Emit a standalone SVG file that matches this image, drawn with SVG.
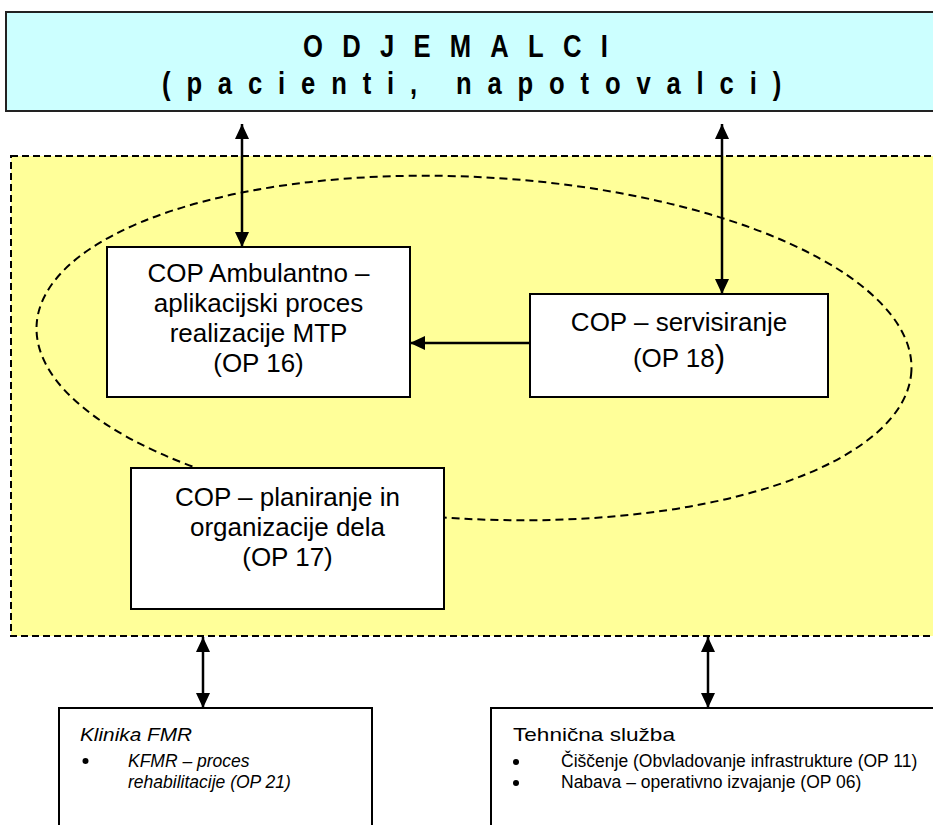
<svg xmlns="http://www.w3.org/2000/svg" width="933" height="825" viewBox="0 0 933 825">
<style>
.box{fill:#fff;stroke:#000;stroke-width:2}
.t{font-family:"Liberation Sans",Arial,sans-serif;font-size:26px;fill:#000;text-anchor:middle}
.s{font-family:"Liberation Sans",Arial,sans-serif;font-size:17.5px;fill:#000}
.h{font-family:"Liberation Sans",Arial,sans-serif;font-size:19px;fill:#000}
.big{font-family:"Liberation Sans",Arial,sans-serif;font-weight:bold;font-size:32px;fill:#000}
.con{stroke:#000;stroke-width:2.5;fill:none}
.dot{fill:#000}
</style>
<defs>
<marker id="ah" markerUnits="userSpaceOnUse" markerWidth="15" markerHeight="14" refX="15" refY="7" orient="auto-start-reverse" viewBox="0 0 15 14">
<path d="M0,0 L15,7 L0,14 z" fill="#000"/>
</marker>
</defs>

<g id="odjemalci">
<rect x="6" y="12" width="940" height="99" fill="#CCFFFF" stroke="#222" stroke-width="2"/>
<g transform="scale(0.8,1)">
<text class="big" x="378.75" y="57" textLength="381" lengthAdjust="spacing">ODJEMALCI</text>
<text class="big" x="202.5" y="94" textLength="774" lengthAdjust="spacing">(pacienti, napotovalci)</text>
</g>
</g>

<g id="podrocje">
<rect x="11" y="156" width="940" height="480" fill="#FFFF99" stroke="#000" stroke-width="2" stroke-dasharray="7 4"/>
<ellipse cx="474" cy="348" rx="438" ry="171" transform="rotate(3 474 348)" fill="none" stroke="#000" stroke-width="2" stroke-dasharray="8 5"/>
</g>

<g id="connectors">
<line class="con" x1="242" y1="124" x2="242" y2="247" marker-start="url(#ah)" marker-end="url(#ah)"/>
<line class="con" x1="722" y1="124" x2="722" y2="294" marker-start="url(#ah)" marker-end="url(#ah)"/>
<line class="con" x1="530" y1="343" x2="410" y2="343" marker-end="url(#ah)"/>
<line class="con" x1="203" y1="637" x2="203" y2="708" marker-start="url(#ah)" marker-end="url(#ah)"/>
<line class="con" x1="708" y1="637" x2="708" y2="708" marker-start="url(#ah)" marker-end="url(#ah)"/>
</g>

<g id="op16">
<rect class="box" x="107" y="247" width="303" height="150"/>
<text class="t" x="258.5" y="282">COP Ambulantno –</text>
<text class="t" x="258.5" y="312">aplikacijski proces</text>
<text class="t" x="258.5" y="342">realizacije MTP</text>
<text class="t" x="258.5" y="372">(OP 16)</text>
</g>

<g id="op18">
<rect class="box" x="530" y="294" width="298" height="103"/>
<text class="t" x="679" y="331">COP – servisiranje</text>
<text class="t" x="679" y="367">(OP 18<tspan font-size="31">)</tspan></text>
</g>

<g id="op17">
<rect class="box" x="131" y="468" width="313" height="141"/>
<text class="t" x="287.5" y="506">COP – planiranje in</text>
<text class="t" x="287.5" y="536">organizacije dela</text>
<text class="t" x="287.5" y="566">(OP 17)</text>
</g>

<g id="klinika">
<rect class="box" x="59" y="708" width="313" height="140"/>
<text class="h" x="80" y="741" font-style="italic" textLength="112" lengthAdjust="spacingAndGlyphs">Klinika FMR</text>
<circle class="dot" cx="85.5" cy="761" r="3"/>
<text class="s" x="128" y="767" font-style="italic">KFMR – proces</text>
<text class="s" x="128" y="788" font-style="italic">rehabilitacije (OP 21)</text>
</g>

<g id="tehnicna">
<rect class="box" x="491" y="708" width="460" height="140"/>
<text class="h" x="513" y="741" textLength="162" lengthAdjust="spacingAndGlyphs">Tehnična služba</text>
<circle class="dot" cx="516" cy="762" r="3"/>
<text class="s" x="561" y="767">Čiščenje (Obvladovanje infrastrukture (OP 11)</text>
<circle class="dot" cx="516" cy="783" r="3"/>
<text class="s" x="561" y="788">Nabava – operativno izvajanje (OP 06)</text>
</g>
</svg>
